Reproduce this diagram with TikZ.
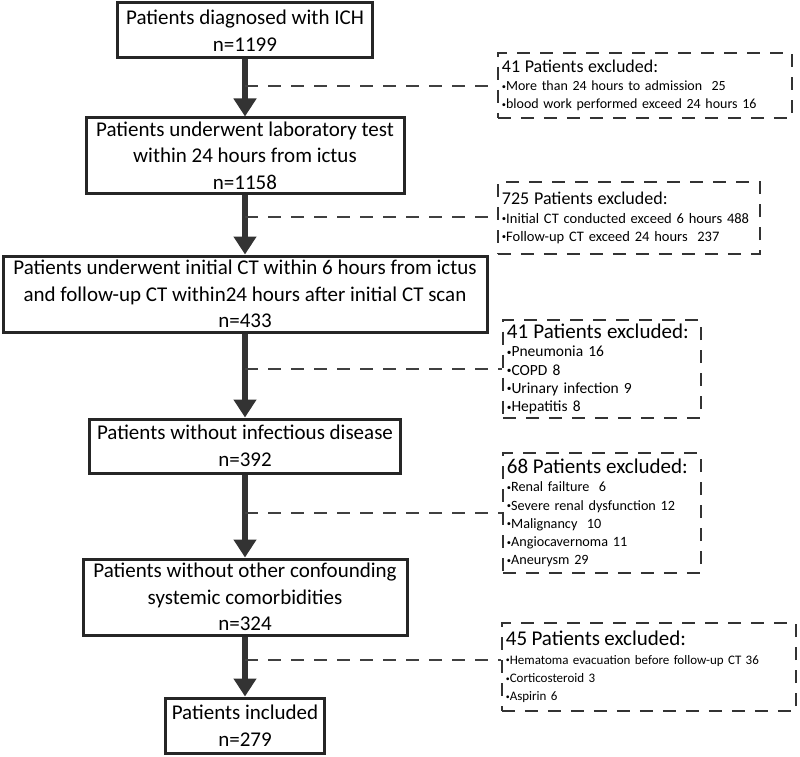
\documentclass[tikz,border=0pt]{standalone}
\usepackage{fontspec}
\setmainfont{Carlito}
\usetikzlibrary{arrows.meta}
\newcommand{\bul}{\raisebox{0.2ex}{\scalebox{0.6}{\textbullet}}}

\begin{document}
\begin{tikzpicture}[x=1pt,y=-1pt]
		\tikzstyle{stage} = [draw=black!85, line width=3pt, rectangle, align=center, inner sep=2pt, font=\fontsize{21}{26.5}\selectfont]
		\tikzstyle{excl} = [draw=black!80, line width=1.8pt, dash pattern=on 13pt off 10pt, rectangle, align=left, inner sep=4pt, anchor=west]
		\tikzstyle{flow} = [draw=black!80, line width=6.5pt, -{Triangle[width=22pt,length=18pt]}]
		\tikzstyle{branch} = [draw=black!75, line width=1.6pt, dash pattern=on 13pt off 10pt]
		\useasboundingbox (0,0) rectangle (800,757);

		\node [stage, minimum width=255pt, minimum height=55pt] (diag) at (245,30.5) {Patients diagnosed with ICH\\n=1199};
		\node [stage, minimum width=318pt, minimum height=75pt] (lab) at (245,155.5) {Patients underwent laboratory test\\within 24 hours from ictus\\n=1158};
		\node [stage, minimum width=484pt, minimum height=76pt] (ct) at (245,294) {Patients underwent initial CT within 6 hours from ictus\\and follow-up CT within24 hours after initial CT scan\\n=433};
		\node [stage, minimum width=311pt, minimum height=54pt] (inf) at (245,446) {Patients without infectious disease\\n=392};
		\node [stage, minimum width=324pt, minimum height=76pt] (como) at (245,597) {Patients without other confounding\\systemic comorbidities\\n=324};
		\node [stage, minimum width=159pt, minimum height=55pt] (incl) at (245,725.5) {Patients included\\n=279};

		\node [excl, text width=286pt, minimum height=65pt, font=\fontsize{14}{18.3}\selectfont] (ex1) at (497,85.5) {{\fontsize{18}{22}\selectfont 41 Patients excluded:}\\\bul More than 24 hours to admission\ \ 25\\\bul blood work performed exceed 24 hours 16};
		\node [excl, text width=254pt, minimum height=72pt, font=\fontsize{14.5}{18.3}\selectfont] (ex2) at (497,218) {{\fontsize{18}{22}\selectfont 725 Patients excluded:}\\\bul Initial CT conducted exceed 6 hours 488\\\bul Follow-up CT exceed 24 hours\ \ 237};
		\node [excl, text width=190pt, minimum height=98pt, font=\fontsize{15.5}{18.3}\selectfont] (ex3) at (502,369) {{\fontsize{21}{24}\selectfont 41 Patients excluded:}\\\bul Pneumonia 16\\\bul COPD 8\\\bul Urinary infection 9\\\bul Hepatitis 8};
		\node [excl, text width=190pt, minimum height=120pt, font=\fontsize{14.2}{18.3}\selectfont] (ex4) at (502,513) {{\fontsize{21}{24}\selectfont 68 Patients excluded:}\\\bul Renal failture\ \ 6\\\bul Severe renal dysfunction 12\\\bul Malignancy\ \ 10\\\bul Angiocavernoma 11\\\bul Aneurysm 29};
		\node [excl, text width=286pt, minimum height=88pt, font=\fontsize{13}{18.3}\selectfont] (ex5) at (501,667) {{\fontsize{21}{24}\selectfont 45 Patients excluded:}\\\bul Hematoma evacuation before follow-up CT 36\\\bul Corticosteroid 3\\\bul Aspirin 6};

		\coordinate (j1) at (245,86);
		\coordinate (j2) at (245,217);
		\coordinate (j3) at (245,369);
		\coordinate (j4) at (245,513);
		\coordinate (j5) at (245,660);

		\draw[flow] (diag) -- (lab);
		\draw[flow] (lab) -- (ct);
		\draw[flow] (ct) -- (inf);
		\draw[flow] (inf) -- (como);
		\draw[flow] (como) -- (incl);

		\draw[branch] (j1) -- (j1 -| ex1.west);
		\draw[branch] (j2) -- (j2 -| ex2.west);
		\draw[branch] (j3) -- (j3 -| ex3.west);
		\draw[branch] (j4) -- (j4 -| ex4.west);
		\draw[branch] (j5) -- (j5 -| ex5.west);
	\end{tikzpicture}
\end{document}
